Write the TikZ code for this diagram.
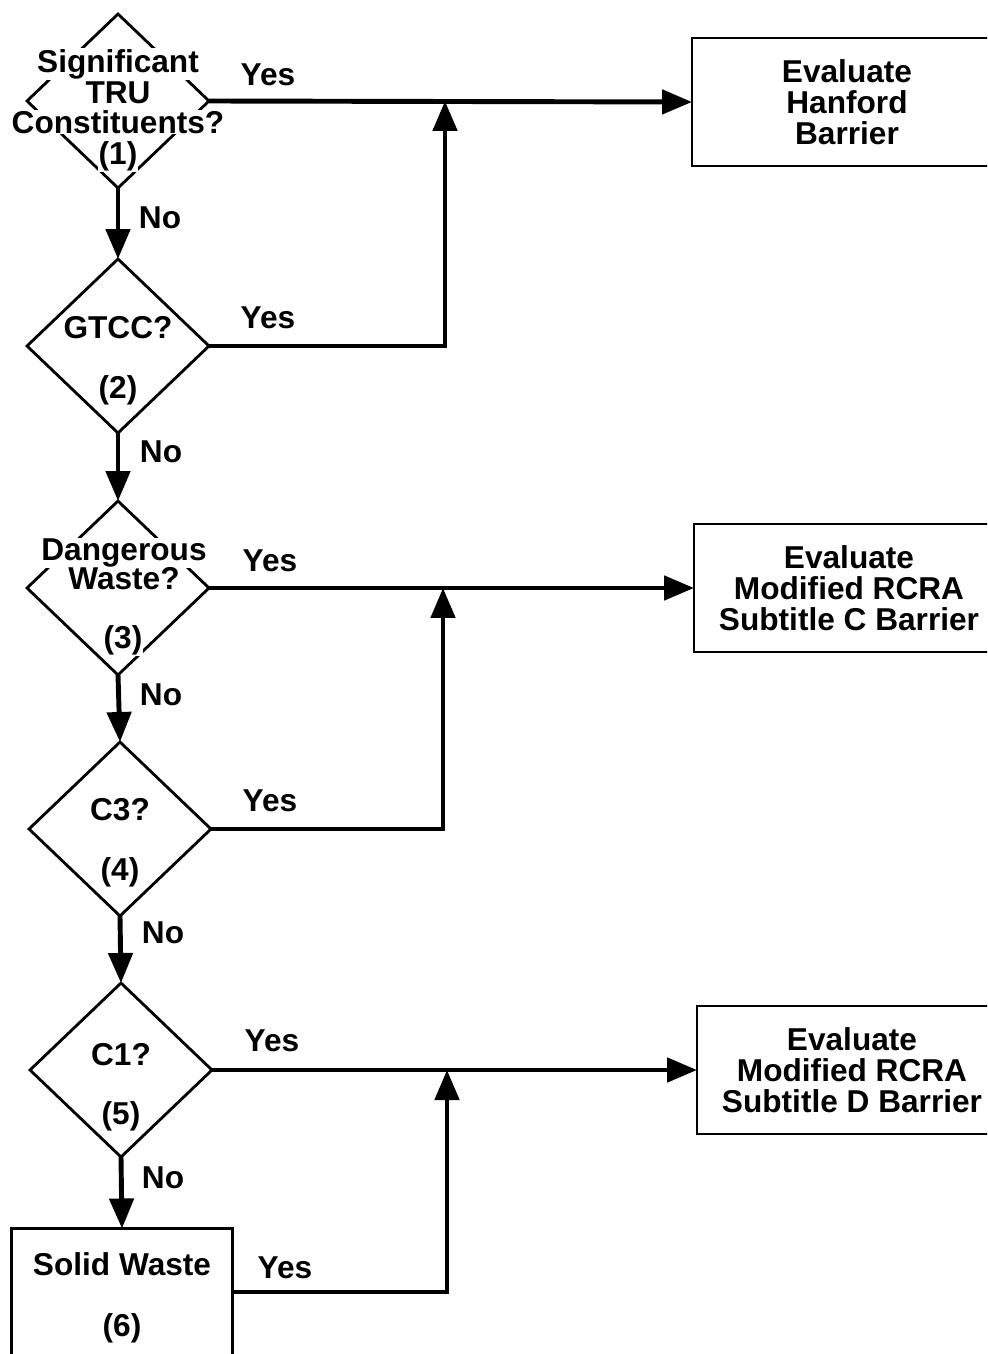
\documentclass[tikz,border=0pt]{standalone}
\usepackage{fontspec}
\setmainfont{Liberation Sans}
\usetikzlibrary{arrows.meta,shapes.geometric}

\begin{document}
\begin{tikzpicture}[
  x=0.02cm, y=-0.02cm,
  font=\fontsize{18}{17.6}\selectfont\bfseries,
  query/.style={draw, diamond, line width=1.6pt, minimum width=3.64cm,
                minimum height=3.48cm, inner sep=0pt, outer sep=0pt},
  qtext/.style={fill=white, inner sep=0.5pt, align=center},
  barrier/.style={draw, line width=1.4pt, minimum width=6.2cm,
                  minimum height=2.56cm, align=center, outer sep=0pt},
  flow/.style={-{Triangle[length=0.6cm,width=0.48cm]}, line width=2.8pt},
  answer/.style={inner sep=0pt},
]
\useasboundingbox (0,0) rectangle (987,1354);
\clip (0,0) rectangle (987,1354);

% decision diamonds
\node[query] (d1) at (118,101) {};
\node[query] (d2) at (118,346) {};
\node[query] (d3) at (118,588) {};
\node[query] (d4) at (120,829) {};
\node[query] (d5) at (121,1070) {};
\node[draw, line width=1.4pt, minimum width=4.42cm, minimum height=2.54cm,
      outer sep=0pt] (solid) at (122,1292) {};

% texts inside the decisions
\node[qtext] at (118,64)  {Significant};
\node[qtext] at (118,93)  {TRU};
\node[qtext] at (118,122) {Constituents?};
\node[qtext] at (118,156) {(1)};
\node[qtext] at (118,328) {GTCC?};
\node[qtext] at (118,390) {(2)};
\node[qtext] at (124,553) {Dangerous};
\node[qtext] at (124,579) {Waste?};
\node[qtext] at (123,640) {(3)};
\node[qtext] at (120,810) {C3?};
\node[qtext] at (120,872) {(4)};
\node[qtext] at (121,1055) {C1?};
\node[qtext] at (121,1116) {(5)};
\node[qtext] at (122,1264) {Solid Waste};
\node[qtext] at (122,1328) {(6)};

% barriers
\node[barrier] (hanford) at (847,102) {Evaluate\\Hanford\\Barrier};
\node[barrier] (rcrac) at (849,588) {Evaluate\\Modified RCRA\\Subtitle C Barrier};
\node[barrier] (rcrad) at (852,1070) {Evaluate\\Modified RCRA\\Subtitle D Barrier};

\coordinate (j1) at (445,101);
\coordinate (j2) at (443,588);
\coordinate (j3) at (447,1070);

% no branches
\draw[flow] (d1.south) -- (d2.north);
\draw[flow] (d2.south) -- (d3.north);
\draw[flow] (d3.south) -- (d4.north);
\draw[flow] (d4.south) -- (d5.north);
\draw[flow] (d5.south) -- (solid.north);

% yes branches
\draw[flow] (d1.east) -- (hanford.west);
\draw[flow] (d2.east) -| (j1);
\draw[flow] (d3.east) -- (rcrac.west);
\draw[flow] (d4.east) -| (j2);
\draw[flow] (d5.east) -- (rcrad.west);
\draw[flow] (solid.east) -| (j3);

% labels
\node[answer] at (160,218)  {No};
\node[answer] at (161,452)  {No};
\node[answer] at (161,695)  {No};
\node[answer] at (163,933)  {No};
\node[answer] at (163,1178) {No};
\node[answer] at (268,75)   {Yes};
\node[answer] at (268,318)  {Yes};
\node[answer] at (270,561)  {Yes};
\node[answer] at (270,801)  {Yes};
\node[answer] at (272,1041) {Yes};
\node[answer] at (285,1268) {Yes};
\end{tikzpicture}
\end{document}
